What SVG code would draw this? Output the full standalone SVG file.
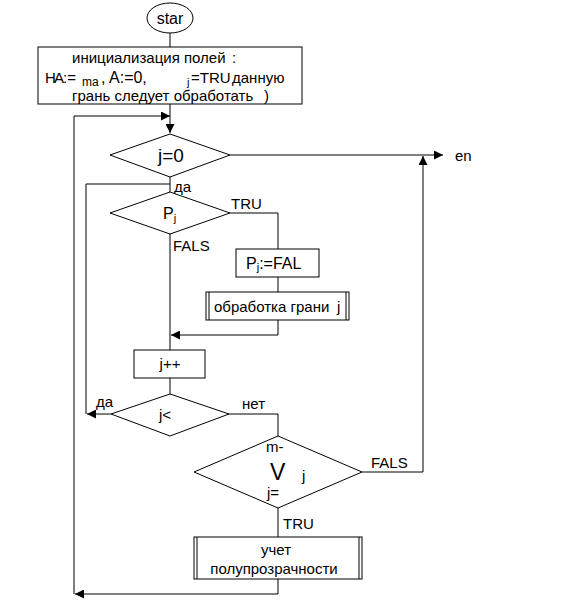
<svg xmlns="http://www.w3.org/2000/svg" width="569" height="604" viewBox="0 0 569 604">
<style>
.s{fill:#fff;stroke:#000;stroke-width:1}
.l{fill:none;stroke:#000;stroke-width:1}
.t{font-family:"Liberation Sans",Arial,sans-serif;font-size:15px;fill:#000}
.m{text-anchor:middle}
</style>
<defs>
<marker id="a" viewBox="0 0 10 10" refX="10" refY="5" markerWidth="9" markerHeight="9" orient="auto" markerUnits="userSpaceOnUse">
<path d="M0,0L10,5L0,10z" fill="#000"/>
</marker>
</defs>
<rect width="569" height="604" fill="#fff"/>
<g id="connectors">
<path class="l" d="M170,33V47"/>
<path class="l" d="M170,104V133" marker-end="url(#a)"/>
<path class="l" d="M74,594V116H170" marker-end="url(#a)"/>
<path class="l" d="M230,155H443" marker-end="url(#a)"/>
<path class="l" d="M170,177V192"/>
<path class="l" d="M86,414V184H170"/>
<path class="l" d="M230,213H278V249"/>
<path class="l" d="M278,277V292"/>
<path class="l" d="M278,320V335H171" marker-end="url(#a)"/>
<path class="l" d="M170,234V350"/>
<path class="l" d="M170,378V394"/>
<path class="l" d="M111,414H87" marker-end="url(#a)"/>
<path class="l" d="M229,414H278V436"/>
<path class="l" d="M362,472H423V156" marker-end="url(#a)"/>
<path class="l" d="M278,508V537"/>
<path class="l" d="M278,579V594H75" marker-end="url(#a)"/>
</g>
<g id="start">
<ellipse class="s" cx="170" cy="18" rx="23" ry="15"/>
<text class="t m" x="170" y="24" style="font-size:16px">star</text>
</g>
<g id="init">
<rect class="s" x="38" y="47" width="264" height="57"/>
<text class="t" x="72" y="63">инициализация полей<tspan x="232">:</tspan></text>
<text class="t" x="45" y="83" style="font-size:15px">Н<tspan x="54">A</tspan><tspan x="63">:=</tspan><tspan x="82" dy="3" style="font-size:12px">ma</tspan><tspan x="101" dy="-3" style="font-size:16px">, A:=0,</tspan><tspan x="187" dy="3" style="font-size:11px">j</tspan><tspan x="191" dy="-3" style="font-size:15px">=TRU</tspan><tspan x="232" style="font-size:15px">данную</tspan></text>
<text class="t" x="72" y="101">грань следует обработать<tspan x="264">)</tspan></text>
</g>
<g id="d_j0">
<path class="s" d="M110,155L170,134L230,155L170,177Z"/>
<text class="t m" x="171" y="162" style="font-size:19px">j=0</text>
</g>
<text class="t" x="174" y="192">да</text>
<g id="d_pj">
<path class="s" d="M110,213L170,192L230,213L170,234Z"/>
<text class="t" x="163" y="219" style="font-size:16px">P<tspan style="font-size:11px" dy="3">j</tspan></text>
</g>
<text class="t" x="231" y="209">TRU</text>
<text class="t" x="173" y="251">FALS</text>
<g id="pjfal">
<rect class="s" x="236" y="249" width="83" height="28"/>
<text class="t" x="246" y="269" style="font-size:16px">P<tspan style="font-size:11px" dy="2">j</tspan><tspan dy="-2">:=FAL</tspan></text>
</g>
<g id="process_edge">
<rect class="s" x="206" y="292" width="143" height="28"/>
<path class="l" d="M209,292V320M346,292V320"/>
<text class="t" x="214" y="312">обработка грани<tspan x="337">j</tspan></text>
</g>
<g id="jpp">
<rect class="s" x="134" y="350" width="71" height="28"/>
<text class="t m" x="170" y="369">j++</text>
</g>
<g id="d_jlt">
<path class="s" d="M111,414L170,394L229,414L170,436Z"/>
<text class="t" x="159" y="420">j&lt;</text>
</g>
<text class="t" x="96" y="407">да</text>
<text class="t" x="242" y="409">нет</text>
<g id="d_v">
<path class="s" d="M194,472L278,436L362,472L278,508Z"/>
<text class="t" x="266" y="452">m-</text>
<text class="t" x="270" y="480" style="font-size:23px">V</text>
<text class="t" x="302" y="481">j</text>
<text class="t" x="267" y="498">j=</text>
</g>
<text class="t" x="371" y="468">FALS</text>
<text class="t" x="283" y="529">TRU</text>
<g id="translucency">
<rect class="s" x="194" y="537" width="168" height="42"/>
<path class="l" d="M197,537V579M359,537V579"/>
<text class="t m" x="276" y="555">учет</text>
<text class="t m" x="274" y="574">полупрозрачности</text>
</g>
<g id="end">
<text class="t" x="455" y="161" fill="#2a1200">en</text>
</g>
</svg>
